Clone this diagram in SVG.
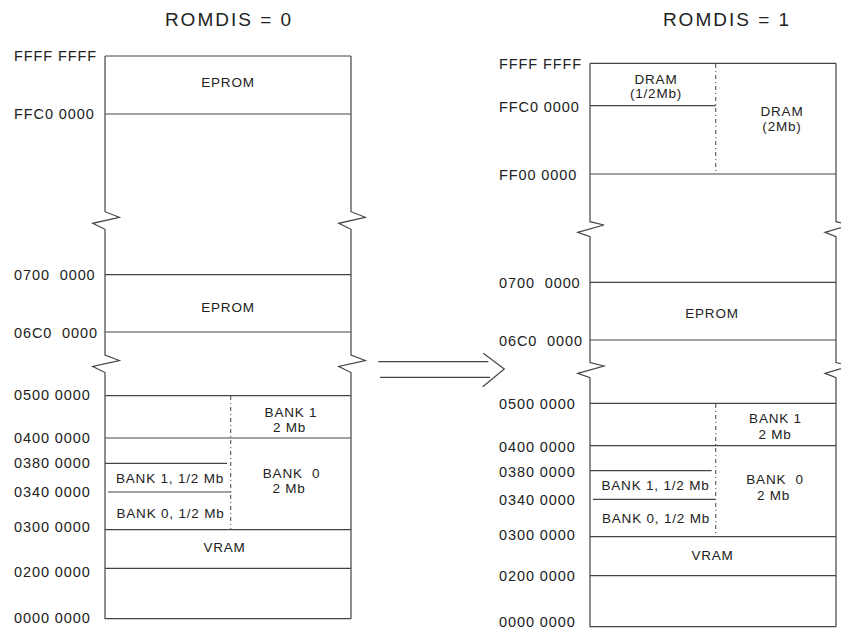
<svg xmlns="http://www.w3.org/2000/svg" width="841" height="629" viewBox="0 0 841 629">
<style>
.ln{stroke:#444;stroke-width:1.2;fill:none}
.dd{stroke:#555;stroke-width:1.1;fill:none;stroke-dasharray:4 3 1 3}
.t{font-family:"Liberation Sans",Arial,sans-serif;fill:#222}
.ttl{font-size:19px;letter-spacing:2px}
.adr{font-size:14.5px;letter-spacing:0.9px}
.lb{font-size:13.5px;letter-spacing:0.8px;text-anchor:middle}
</style>
<rect width="841" height="629" fill="#fff"/>

<g id="title-left"><text class="t ttl" x="229" y="26" text-anchor="middle" xml:space="preserve">ROMDIS = 0</text></g>
<g id="title-right"><text class="t ttl" x="727" y="26" text-anchor="middle" xml:space="preserve">ROMDIS = 1</text></g>

<!-- LEFT MAP -->
<g id="map-left">
  <path class="ln" d="M105,56 H351 M105,56 V211.7 L119.3,217.3 L92.7,223.3 L105,229.3 V355 L119.3,360.5 L92.7,366.5 L105,372.5 V618.7 H351 M351,56 V211.7 L365.3,217.3 L338.7,223.3 L351,229.3 V355 L365.3,360.5 L338.7,366.5 L351,372.5 V618.7"/>
  <g id="L-eprom-top"><path class="ln" d="M105,114 H351"/><text class="t lb" x="228" y="87.3">EPROM</text></g>
  <g id="L-eprom-mid"><path class="ln" d="M105,274.7 H351 M105,332 H351"/><text class="t lb" x="228" y="311.7">EPROM</text></g>
  <g id="L-bank1-2mb"><path class="ln" d="M105,395.7 H351 M105,438 H351"/><text class="t lb" x="291" y="416.7">BANK 1</text><text class="t lb" x="289.5" y="431.7">2 Mb</text></g>
  <g id="L-bank0-2mb"><text class="t lb" x="291.5" y="478.3" xml:space="preserve">BANK  0</text><text class="t lb" x="289" y="493.3">2 Mb</text></g>
  <g id="L-bank1-half"><path class="ln" d="M105,463.3 H227 M108,492 H231"/><text class="t lb" x="170" y="483.3">BANK 1, 1/2 Mb</text></g>
  <g id="L-bank0-half"><text class="t lb" x="170.5" y="518.3">BANK 0, 1/2 Mb</text></g>
  <path class="dd" d="M230.7,396 V529.7"/>
  <g id="L-vram"><path class="ln" d="M105,529.7 H351 M105,568.3 H351"/><text class="t lb" x="224.5" y="552.3">VRAM</text></g>
  <g id="L-addr">
    <text class="t adr" x="14" y="61">FFFF FFFF</text>
    <text class="t adr" x="14" y="119.3">FFC0 0000</text>
    <text class="t adr" x="14" y="280" xml:space="preserve">0700  0000</text>
    <text class="t adr" x="14" y="338" xml:space="preserve">06C0  0000</text>
    <text class="t adr" x="14" y="400">0500 0000</text>
    <text class="t adr" x="14" y="443.3">0400 0000</text>
    <text class="t adr" x="14" y="468.3">0380 0000</text>
    <text class="t adr" x="14" y="497.3">0340 0000</text>
    <text class="t adr" x="14" y="531.7">0300 0000</text>
    <text class="t adr" x="14" y="576.7">0200 0000</text>
    <text class="t adr" x="14" y="622.7">0000 0000</text>
  </g>
</g>

<!-- RIGHT MAP -->
<g id="map-right">
  <path class="ln" d="M590,63.3 H836 M590,63.3 V221.7 L604,225 L577.7,232.3 L590,236.7 V362.5 L604,366 L577.7,373.3 L590,377.7 V626.7 H836 M836,63.3 V221.7 L850,225 L825,232.3 L836,236.7 V362.5 L850,366 L825,373.3 L836,377.7 V626.7"/>
  <g id="R-dram-half"><path class="ln" d="M590,105.7 H715.7"/><text class="t lb" x="656" y="84">DRAM</text><text class="t lb" x="656" y="97.5">(1/2Mb)</text></g>
  <g id="R-dram-2mb"><path class="ln" d="M590,174 H836"/><text class="t lb" x="782" y="115.7">DRAM</text><text class="t lb" x="782" y="131">(2Mb)</text></g>
  <path class="dd" d="M715.7,64 V174"/>
  <g id="R-eprom"><path class="ln" d="M590,282.3 H836 M590,340 H836"/><text class="t lb" x="712" y="318">EPROM</text></g>
  <g id="R-bank1-2mb"><path class="ln" d="M590,403.3 H836 M590,445.7 H836"/><text class="t lb" x="775.5" y="423.3">BANK 1</text><text class="t lb" x="775" y="439.3">2 Mb</text></g>
  <g id="R-bank0-2mb"><text class="t lb" x="775" y="484.3" xml:space="preserve">BANK  0</text><text class="t lb" x="773.5" y="500">2 Mb</text></g>
  <g id="R-bank1-half"><path class="ln" d="M590,470.7 H711.7 M593,499.3 H715.7"/><text class="t lb" x="655.5" y="490">BANK 1, 1/2 Mb</text></g>
  <g id="R-bank0-half"><text class="t lb" x="656" y="523.3">BANK 0, 1/2 Mb</text></g>
  <path class="dd" d="M715.7,404 V536.7"/>
  <g id="R-vram"><path class="ln" d="M590,536.7 H836 M590,575.7 H836"/><text class="t lb" x="712.5" y="560">VRAM</text></g>
  <g id="R-addr">
    <text class="t adr" x="499" y="69.3">FFFF FFFF</text>
    <text class="t adr" x="499" y="111.5">FFC0 0000</text>
    <text class="t adr" x="499" y="180">FF00 0000</text>
    <text class="t adr" x="499" y="288" xml:space="preserve">0700  0000</text>
    <text class="t adr" x="499" y="346" xml:space="preserve">06C0  0000</text>
    <text class="t adr" x="499" y="409">0500 0000</text>
    <text class="t adr" x="499" y="451.5">0400 0000</text>
    <text class="t adr" x="499" y="476.7">0380 0000</text>
    <text class="t adr" x="499" y="505">0340 0000</text>
    <text class="t adr" x="499" y="540">0300 0000</text>
    <text class="t adr" x="499" y="580.7">0200 0000</text>
    <text class="t adr" x="499" y="627">0000 0000</text>
  </g>
</g>

<g id="connectors">
  <path class="ln" d="M378.3,361.7 H488.3 M380,377.3 H490 M483.3,353.3 L504.3,369 L482.7,386.7"/>
</g>
</svg>
